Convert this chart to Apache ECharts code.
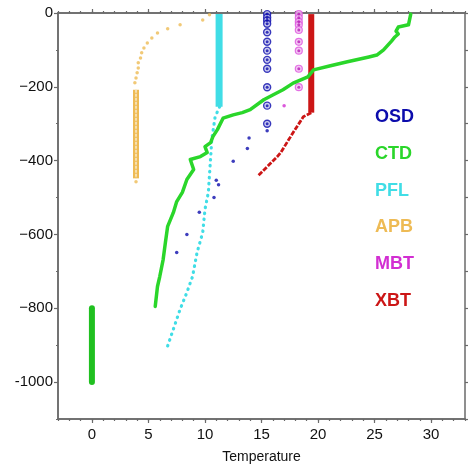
<!DOCTYPE html>
<html>
<head>
<meta charset="utf-8">
<script src="https://cdn.jsdelivr.net/npm/echarts@6/dist/echarts.min.js"></script>
<style>
  html, body { margin: 0; padding: 0; background: #fff; }
  #chart { width: 468px; height: 470px; }
</style>
</head>
<body>
<div id="chart"></div>
<script>
// Temperature (°C) against depth (m, negative downward) for each instrument type.

// CTD: continuous cast, plus a deep segment logged at 0 °C
const ctdProfile = [
  [28.2, -3], [28.0, -32], [27.1, -38], [26.9, -49], [27.1, -57], [26.8, -65],
  [26.5, -76], [25.8, -100], [25.2, -114], [24.5, -119], [22.6, -132], [21.1, -143],
  [19.6, -154], [19.1, -173], [17.8, -190], [16.9, -208], [16.0, -222], [15.2, -235],
  [14.0, -262], [13.3, -270], [12.5, -276], [11.6, -285], [11.1, -316], [10.7, -335],
  [10.5, -351], [10.0, -362], [10.2, -378], [9.6, -389], [8.7, -397], [9.0, -424],
  [8.4, -451], [8.0, -486], [7.5, -511], [7.2, -541], [6.7, -578], [6.5, -622],
  [6.3, -668], [6.0, -714], [5.8, -741], [5.6, -795]
];
const ctdDeep = [[0, -800], [0, -1000]];

// PFL: profiling float, dense upper column then sparse descent
const pflColumn = [[11.25, -3], [11.25, -254]];
const pflProfile = [
  [11.3, -254], [10.9, -281], [10.6, -343], [10.5, -392], [10.3, -486], [10.0, -532],
  [9.8, -595], [9.3, -649], [8.9, -714], [8.4, -757], [7.8, -803], [7.2, -857], [6.6, -911]
];

// APB: surface curve of small dots, then a column of rings
const apbDots = [
  [10.4, -5], [9.8, -19], [7.8, -32], [6.7, -43], [5.8, -54], [5.3, -68], [4.9, -81],
  [4.6, -95], [4.4, -108], [4.3, -122], [4.1, -135], [4.1, -149], [4.0, -162],
  [3.9, -176], [3.8, -189], [3.9, -457]
];
const apbColumn = [[3.9, -208], [3.9, -448]];

// OSD: bottle levels (ringed) and deeper single samples
const osdLevels = [
  [15.5, -3], [15.5, -12], [15.5, -20], [15.5, -29], [15.5, -52], [15.5, -78],
  [15.5, -102], [15.5, -127], [15.5, -151], [15.5, -201], [15.5, -251], [15.5, -300]
];
const osdDots = [
  [15.5, -319], [13.9, -339], [13.75, -367], [12.5, -402], [11.0, -453], [11.2, -465],
  [10.8, -500], [9.5, -540], [8.4, -600], [7.5, -649]
];

// MBT: ringed levels and one loose sample
const mbtLevels = [
  [18.3, -3], [18.3, -13], [18.3, -24], [18.3, -32], [18.3, -46], [18.3, -78],
  [18.3, -102], [18.3, -151], [18.3, -201]
];
const mbtDots = [[17.0, -251]];

// XBT: vertical column then descending trace
const xbtColumn = [[19.4, -3], [19.4, -270]];
const xbtProfile = [
  [19.4, -270], [18.7, -281], [17.8, -324], [16.7, -378], [16.4, -389], [14.7, -441]
];

// Axis ticks and labels
const xTickValues = [0, 5, 10, 15, 20, 25, 30];
const xTickLabels = ['0', '5', '10', '15', '20', '25', '30'];
const yTickValues = [0, -200, -400, -600, -800, -1000];
const yTickLabels = ['0', '\u2212200', '\u2212400', '\u2212600', '\u2212800', '-1000'];
const xMinorValues = [];
for (let v = -3; v <= 33; v++) xMinorValues.push(v);
const yMinorValues = [];
for (let v = -1100; v <= 0; v += 100) yMinorValues.push(v);

const legendNames = ['OSD', 'CTD', 'PFL', 'APB', 'MBT', 'XBT'];
const colors = {
  OSD: '#0c0cac', CTD: '#2ad62a', PFL: '#40dde6',
  APB: '#eebb55', MBT: '#d22ed2', XBT: '#cc1616'
};

const FONT = '"Liberation Sans", Arial, Helvetica, sans-serif';
const axisColor = '#6a6a6a';
const X_MIN = -3, X_MAX = 33, Y_MIN = -1100, Y_MAX = 0;

function xAxisDef(position, ticks, len, withLabels) {
  return {
    type: 'value', position: position, min: X_MIN, max: X_MAX,
    axisLine: { show: true, onZero: false, lineStyle: { color: axisColor, width: 1.5 } },
    axisTick: { show: true, customValues: ticks, length: len, lineStyle: { color: axisColor, width: 1.2 } },
    axisLabel: withLabels ? {
      show: true, customValues: xTickValues, margin: 8,
      fontFamily: FONT, fontSize: 15, color: '#111',
      formatter: v => xTickLabels[xTickValues.indexOf(v)] || ''
    } : { show: false },
    splitLine: { show: false },
    name: withLabels ? 'Temperature' : '',
    nameLocation: 'middle', nameGap: 31,
    nameTextStyle: { fontFamily: FONT, fontSize: 14, color: '#111' }
  };
}
function yAxisDef(position, ticks, len, withLabels) {
  return {
    type: 'value', position: position, min: Y_MIN, max: Y_MAX,
    axisLine: { show: true, onZero: false, lineStyle: { color: axisColor, width: 1.5 } },
    axisTick: { show: true, customValues: ticks, length: len, lineStyle: { color: axisColor, width: 1.2 } },
    axisLabel: withLabels ? {
      show: true, customValues: yTickValues, margin: 5,
      fontFamily: FONT, fontSize: 15, color: '#111',
      formatter: v => yTickLabels[yTickValues.indexOf(v)] || ''
    } : { show: false },
    splitLine: { show: false }
  };
}

const lineSeries = (data, color, width, extra) => ({
  type: 'line', data: data, showSymbol: false, symbol: 'none', silent: true,
  lineStyle: Object.assign({ color: color, width: width }, (extra && extra.lineStyle) || {}),
  z: (extra && extra.z) || 2
});

const chart = echarts.init(document.getElementById('chart'), null, { renderer: 'canvas' });
chart.setOption({
  animation: false,
  backgroundColor: '#fff',
  grid: { left: 58, right: 3, top: 13, bottom: 51, containLabel: false },
  xAxis: [
    xAxisDef('bottom', xTickValues, 4, true),
    xAxisDef('bottom', xMinorValues, 2, false),
    xAxisDef('top', xTickValues, 4, false),
    xAxisDef('top', xMinorValues, 2, false)
  ],
  yAxis: [
    yAxisDef('left', yTickValues, 4, true),
    yAxisDef('left', yMinorValues, 2, false),
    yAxisDef('right', yMinorValues, 3, false)
  ],
  graphic: legendNames.map((name, i) => ({
    type: 'text', left: 375, top: 108 + i * 36.8,
    style: { text: name, fill: colors[name], font: 'bold 18px ' + FONT }
  })),
  series: [
    // APB
    lineSeries(apbColumn, colors.APB, 6, { lineStyle: { cap: 'butt' } }),
    lineSeries(apbColumn, '#f6dfae', 2, { lineStyle: { cap: 'butt', type: [3, 1] }, z: 3 }),
    { type: 'scatter', data: apbDots, symbol: 'circle', symbolSize: 3.5,
      itemStyle: { color: colors.APB }, silent: true, z: 3 },
    // PFL
    lineSeries(pflColumn, colors.PFL, 7, { lineStyle: { cap: 'butt' } }),
    lineSeries(pflProfile, colors.PFL, 3.2, { lineStyle: { cap: 'round', type: [0.5, 5.5] } }),
    // XBT
    lineSeries(xbtColumn, colors.XBT, 6, { lineStyle: { cap: 'butt' } }),
    lineSeries(xbtProfile, colors.XBT, 2.8, { lineStyle: { type: [5, 1.5] } }),
    // OSD
    { type: 'scatter', data: osdLevels, symbol: 'circle', symbolSize: 7,
      itemStyle: { color: '#c4c4ee', borderColor: colors.OSD, borderWidth: 1.4 }, silent: true, z: 4 },
    { type: 'scatter', data: osdLevels, symbol: 'circle', symbolSize: 3,
      itemStyle: { color: colors.OSD }, silent: true, z: 5 },
    { type: 'scatter', data: osdDots, symbol: 'circle', symbolSize: 3.5,
      itemStyle: { color: colors.OSD }, silent: true, z: 5 },
    // MBT
    { type: 'scatter', data: mbtLevels, symbol: 'circle', symbolSize: 7,
      itemStyle: { color: '#f2b8f2', borderColor: '#dd55dd', borderWidth: 1.2 }, silent: true, z: 4 },
    { type: 'scatter', data: mbtLevels, symbol: 'circle', symbolSize: 3,
      itemStyle: { color: '#b420b4' }, silent: true, z: 5 },
    { type: 'scatter', data: mbtDots, symbol: 'circle', symbolSize: 3.5,
      itemStyle: { color: colors.MBT }, silent: true, z: 5 },
    // CTD
    lineSeries(ctdProfile, colors.CTD, 3.5, { lineStyle: { cap: 'round', join: 'round' }, z: 6 }),
    lineSeries(ctdDeep, '#20c020', 6, { lineStyle: { cap: 'round' }, z: 6 })
  ]
});
</script>
</body>
</html>
